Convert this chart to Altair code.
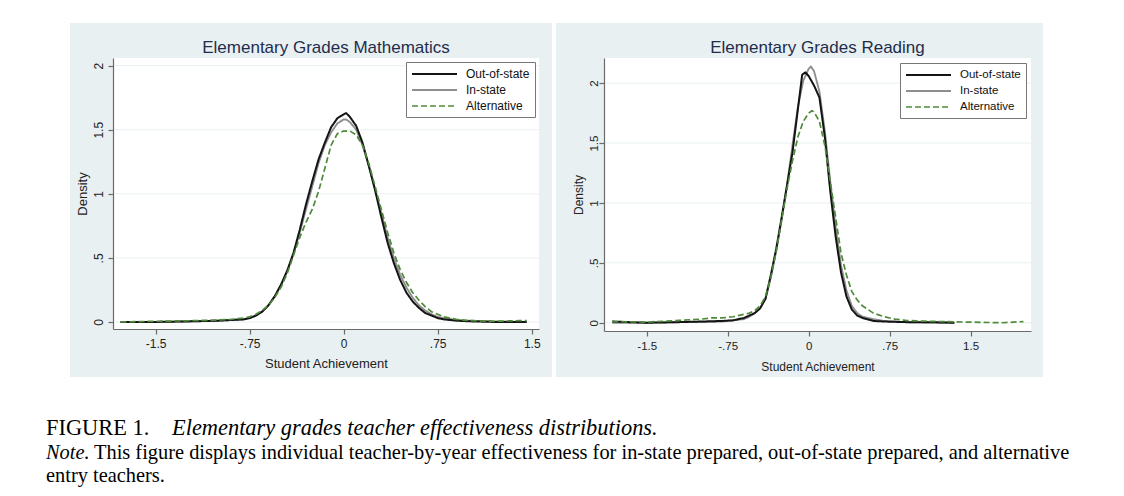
import altair as alt
import pandas as pd

SERIES = ["Out-of-state", "In-state", "Alternative"]
COLORS = ["#141414", "#8e8e8e", "#4f8a3a"]
DASHES = [[1, 0], [1, 0], [6, 3]]
WIDTHS = [2.0, 1.7, 1.7]

# ---- Elementary Grades Mathematics ----
MATH_OUT_X = [-1.78, -1.5, -1.2, -1.0, -0.9, -0.8, -0.75, -0.7, -0.65, -0.6, -0.55, -0.5, -0.45, -0.4, -0.35,
              -0.3, -0.25, -0.2, -0.15, -0.1, -0.05, 0.0, 0.02, 0.05, 0.1, 0.15, 0.2, 0.25, 0.3, 0.35, 0.4,
              0.45, 0.5, 0.55, 0.6, 0.65, 0.7, 0.75, 0.8, 0.9, 1.0, 1.2, 1.46]
MATH_OUT_Y = [0.0, 0.0, 0.005, 0.01, 0.015, 0.02, 0.03, 0.05, 0.08, 0.13, 0.2, 0.29, 0.40, 0.54, 0.72,
              0.92, 1.10, 1.27, 1.40, 1.52, 1.59, 1.62, 1.63, 1.60, 1.53, 1.40, 1.22, 1.03, 0.82, 0.62, 0.46,
              0.33, 0.23, 0.16, 0.11, 0.07, 0.05, 0.03, 0.02, 0.01, 0.005, 0.0, 0.0]
MATH_IN_X = MATH_OUT_X
MATH_IN_Y = [0.0, 0.0, 0.005, 0.01, 0.015, 0.02, 0.03, 0.05, 0.08, 0.13, 0.2, 0.29, 0.40, 0.53, 0.70,
             0.88, 1.06, 1.24, 1.38, 1.48, 1.55, 1.58, 1.58, 1.56, 1.50, 1.38, 1.22, 1.04, 0.85, 0.66, 0.50,
             0.37, 0.27, 0.19, 0.13, 0.09, 0.06, 0.04, 0.03, 0.015, 0.01, 0.005, 0.0]
MATH_ALT_X = [-1.78, -1.5, -1.2, -1.0, -0.9, -0.8, -0.75, -0.7, -0.65, -0.6, -0.55, -0.5, -0.45, -0.4, -0.35,
              -0.3, -0.25, -0.2, -0.15, -0.1, -0.05, 0.0, 0.05, 0.1, 0.15, 0.2, 0.25, 0.3, 0.35, 0.4, 0.45,
              0.5, 0.55, 0.6, 0.65, 0.7, 0.75, 0.8, 0.9, 1.0, 1.2, 1.4, 1.46]
MATH_ALT_Y = [0.0, 0.005, 0.01, 0.015, 0.02, 0.03, 0.04, 0.06, 0.09, 0.13, 0.19, 0.27, 0.38, 0.52, 0.66,
              0.78, 0.88, 1.02, 1.2, 1.38, 1.47, 1.49, 1.49, 1.46, 1.38, 1.24, 1.06, 0.88, 0.70, 0.54, 0.41,
              0.31, 0.23, 0.17, 0.12, 0.08, 0.06, 0.04, 0.02, 0.01, 0.005, 0.01, 0.01]

# ---- Elementary Grades Reading ----
READ_OUT_X = [-1.82, -1.5, -1.2, -1.0, -0.8, -0.7, -0.6, -0.55, -0.5, -0.45, -0.4, -0.35, -0.3, -0.25, -0.2,
              -0.15, -0.1, -0.06, -0.03, 0.0, 0.05, 0.1, 0.15, 0.2, 0.25, 0.3, 0.35, 0.4, 0.45, 0.5,
              0.6, 0.7, 0.9, 1.1, 1.35]
READ_OUT_Y = [0.01, 0.0, 0.005, 0.01, 0.015, 0.02, 0.04, 0.06, 0.08, 0.12, 0.2, 0.40, 0.62, 0.88, 1.15,
              1.42, 1.78, 2.07, 2.09, 2.06, 1.98, 1.88, 1.55, 1.10, 0.72, 0.42, 0.22, 0.11, 0.06, 0.04,
              0.015, 0.01, 0.005, 0.005, 0.0]
READ_IN_X = [-1.82, -1.5, -1.2, -1.0, -0.8, -0.7, -0.6, -0.55, -0.5, -0.45, -0.4, -0.35, -0.3, -0.25, -0.2,
             -0.15, -0.1, -0.05, 0.0, 0.02, 0.05, 0.1, 0.15, 0.2, 0.25, 0.3, 0.35, 0.4, 0.45, 0.5,
             0.6, 0.7, 0.9, 1.2, 1.35]
READ_IN_Y = [0.0, 0.0, 0.005, 0.005, 0.01, 0.02, 0.03, 0.05, 0.08, 0.12, 0.2, 0.38, 0.60, 0.86, 1.15,
             1.48, 1.80, 2.02, 2.12, 2.14, 2.10, 1.93, 1.60, 1.18, 0.80, 0.48, 0.27, 0.14, 0.08, 0.05,
             0.03, 0.015, 0.005, 0.0, 0.0]
READ_ALT_X = [-1.82, -1.5, -1.2, -1.0, -0.9, -0.8, -0.7, -0.6, -0.55, -0.5, -0.45, -0.4, -0.35, -0.3, -0.25,
              -0.2, -0.15, -0.1, -0.05, 0.0, 0.03, 0.05, 0.1, 0.15, 0.2, 0.25, 0.3, 0.35, 0.4, 0.45,
              0.5, 0.55, 0.6, 0.7, 0.8, 0.9, 1.0, 1.2, 1.5, 1.8, 1.99]
READ_ALT_Y = [0.01, 0.005, 0.02, 0.03, 0.04, 0.04, 0.05, 0.07, 0.08, 0.10, 0.14, 0.22, 0.38, 0.60, 0.86,
              1.12, 1.35, 1.55, 1.68, 1.75, 1.77, 1.76, 1.68, 1.48, 1.18, 0.88, 0.58, 0.40, 0.26, 0.19,
              0.14, 0.11, 0.08, 0.05, 0.03, 0.02, 0.015, 0.01, 0.005, 0.0, 0.01]

X_TICKS = [-1.5, -0.75, 0, 0.75, 1.5]
Y_TICKS = [0, 0.5, 1, 1.5, 2]
GRID = [0, 0.5, 1, 1.5, 2]

TITLE_MATH = "Elementary Grades Mathematics"
TITLE_READ = "Elementary Grades Reading"
X_TITLE = "Student Achievement"
Y_TITLE = "Density"

CAPTION_LABEL = "FIGURE 1."
CAPTION_TITLE = "Elementary grades teacher effectiveness distributions."
NOTE_LABEL = "Note."
NOTE_LINE1 = "This figure displays individual teacher-by-year effectiveness for in-state prepared, out-of-state prepared, and alternative"
NOTE_LINE2 = "entry teachers."

BG = "#e9f0f2"
GRIDC = "#e9f0f2"
SANS = "Liberation Sans"
SERIF = "Liberation Serif"
LBL = "datum.value == 0 ? '0' : replace(toString(datum.value), '0.', '.')"


def make_df(pairs):
    rows = []
    for name, (xv, yv) in zip(SERIES, pairs):
        for a, b in zip(xv, yv):
            rows.append({"series": name, "x": a, "y": b})
    order = {"In-state": 0, "Out-of-state": 1, "Alternative": 2}
    rows.sort(key=lambda r: order[r["series"]])
    return pd.DataFrame(rows)


def text_mark(s, x, y, size, style="normal", font=SERIF, color="#000", align="left"):
    return alt.Chart(pd.DataFrame({"t": [s]})).mark_text(
        align=align, baseline="alphabetic", font=font, fontSize=size, fontStyle=style, color=color
    ).encode(x=alt.value(x), y=alt.value(y), text="t:N")


def panel(df, title, xdom, ydom, W, H, bg, fs, lab_pad, leg_off, extra=None):
    xs = alt.Scale(domain=xdom, nice=False, zero=False)
    ys = alt.Scale(domain=ydom, nice=False, zero=False)
    xaxis = alt.Axis(values=X_TICKS, labelExpr=LBL, title=X_TITLE, grid=False,
                     domainColor="#6a6a6a", tickColor="#6a6a6a", domainWidth=1.2, tickWidth=1.2,
                     tickSize=5, labelPadding=4, titlePadding=fs["xtp"], labelFont=SANS,
                     labelFontSize=fs["tick"], titleFont=SANS, titleFontSize=fs["axt"],
                     titleFontWeight="normal", labelColor="#222", titleColor="#222",
                     labelOverlap=False, labelFlush=False, zindex=1)
    yaxis = alt.Axis(values=Y_TICKS, labelExpr=LBL, title=Y_TITLE, grid=False,
                     domainColor="#6a6a6a", tickColor="#6a6a6a", domainWidth=1.2, tickWidth=1.2,
                     tickSize=5, labelPadding=lab_pad, titlePadding=3, labelFont=SANS,
                     labelFontSize=fs["tick"], titleFont=SANS, titleFontSize=fs["axt"],
                     titleFontWeight="normal", labelColor="#222", titleColor="#222",
                     labelAngle=270, labelAlign="center", labelBaseline="bottom",
                     labelOverlap=False, labelFlush=False, zindex=1)
    one = pd.DataFrame({"k": [0]})
    bgrect = alt.Chart(one).mark_rect(color=BG).encode(
        x=alt.value(bg[0]), x2=alt.value(bg[1]), y=alt.value(bg[2]), y2=alt.value(bg[3]))
    plotrect = alt.Chart(one).mark_rect(color="white").encode(
        x=alt.value(0), x2=alt.value(W), y=alt.value(0), y2=alt.value(H))
    grid = alt.Chart(pd.DataFrame({"y": GRID})).mark_rule(color=GRIDC, strokeWidth=1).encode(
        y=alt.Y("y:Q", scale=ys, axis=yaxis))
    leg = alt.Legend(orient="top-right", offset=leg_off, padding=5, fillColor="white",
                     strokeColor="#777", symbolType="M-1,0H6.5", symbolSize=144,
                     symbolStrokeWidth=1.8, labelFont=SANS, labelFontSize=fs["leg"],
                     labelColor="#111", labelOffset=41, rowPadding=3, zindex=1, labelLimit=200)
    lines = alt.Chart(df).mark_line(strokeJoin="round", strokeCap="butt").encode(
        x=alt.X("x:Q", scale=xs, axis=xaxis),
        y=alt.Y("y:Q", scale=ys, axis=yaxis),
        color=alt.Color("series:N", title=None, scale=alt.Scale(domain=SERIES, range=COLORS), legend=leg),
        strokeDash=alt.StrokeDash("series:N", title=None, scale=alt.Scale(domain=SERIES, range=DASHES), legend=leg),
        strokeWidth=alt.StrokeWidth("series:N", scale=alt.Scale(domain=SERIES, range=WIDTHS), legend=None),
        detail="series:N",
    )
    ttl = text_mark(title, W / 2, -5, 17, font=SANS, color="#1f2d4d", align="center")
    layers = [bgrect, plotrect, grid, lines, ttl] + (extra or [])
    return alt.layer(*layers).properties(width=W, height=H)


caption = [
    text_mark(CAPTION_LABEL, -67, 377, 22.4),
    text_mark(CAPTION_TITLE, 59, 377, 22.4, "italic"),
    text_mark(NOTE_LABEL, -67, 401, 20.4, "italic"),
    text_mark(NOTE_LINE1, -19, 401, 20.4),
    text_mark(NOTE_LINE2, -67, 424, 20.4),
]

math_df = make_df([(MATH_OUT_X, MATH_OUT_Y), (MATH_IN_X, MATH_IN_Y), (MATH_ALT_X, MATH_ALT_Y)])
read_df = make_df([(READ_OUT_X, READ_OUT_Y), (READ_IN_X, READ_IN_Y), (READ_ALT_X, READ_ALT_Y)])

left = panel(math_df, TITLE_MATH, [-1.84, 1.558], [-0.055, 2.06], 426, 271,
             (-43, 439, -35, 319), {"tick": 12, "axt": 13, "leg": 12, "xtp": 8}, 2.5, 4, caption)
right = panel(read_df, TITLE_READ, [-1.896, 2.06], [-0.069, 2.21], 427, 273,
              (-48, 439, -35, 319), {"tick": 11.5, "axt": 12, "leg": 11.5, "xtp": 10}, 0, 5)

chart = alt.hconcat(left, right, spacing=65, bounds="flush").resolve_scale(
    x="independent", y="independent", color="independent",
    strokeDash="independent", strokeWidth="independent",
).configure_view(strokeWidth=0).properties(
    padding={"left": 38, "top": 15, "right": 0, "bottom": 0}, background="white")

chart.save("out.html", embed_options={"renderer": "svg", "actions": False})
